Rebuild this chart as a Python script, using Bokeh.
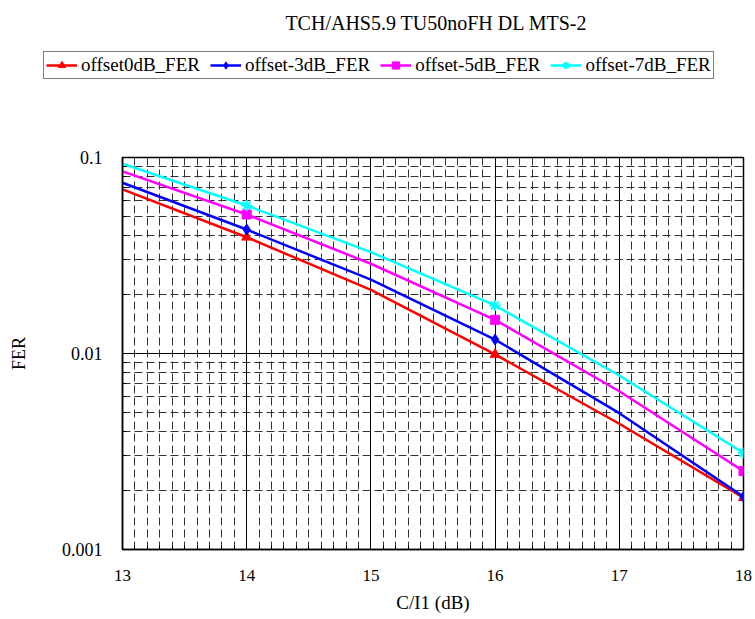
from bokeh.plotting import figure
from bokeh.layouts import column
from bokeh.models import (FixedTicker, SingleIntervalTicker, NumeralTickFormatter,
                          Legend, LegendItem, Label, Range1d)
from bokeh.embed import file_html
from bokeh.resources import INLINE

# ---- data ----
title_text = "TCH/AHS5.9 TU50noFH DL MTS-2"
x_label = "C/I1 (dB)"
y_label = "FER"
ci = [13, 14, 15, 16, 17, 18]
marker_idx = [1, 3, 5]  # markers drawn at 14, 16, 18
fer_0 = [0.0687, 0.0392, 0.0211, 0.00989, 0.00438, 0.00184]
fer_m3 = [0.0743, 0.0429, 0.0238, 0.01178, 0.00496, 0.00186]
fer_m5 = [0.0849, 0.0512, 0.0287, 0.01485, 0.00642, 0.00251]
fer_m7 = [0.0929, 0.0569, 0.0329, 0.01758, 0.00772, 0.00311]
series_names = ["offset0dB_FER", "offset-3dB_FER", "offset-5dB_FER", "offset-7dB_FER"]
series_vals = [fer_0, fer_m3, fer_m5, fer_m7]
series_colors = ["#FF0000", "#0000FF", "#FF00FF", "#00FFFF"]
series_markers = ["triangle", "diamond", "square", "asterisk"]
marker_sizes = [10, 11, 9, 11]
y_ticks = [0.001, 0.01, 0.1]
x_ticks_interval = 1

FONT = "Liberation Serif"
TOP_H = 90

# ---------- header figure: title + legend ----------
# its ranges lie outside the data, so the series drawn here only feed the legend swatches
head = figure(width=755, height=TOP_H, x_range=Range1d(0, 1), y_range=Range1d(0, 1),
              output_backend="svg", toolbar_location=None,
              x_axis_location=None, y_axis_location=None,
              min_border=0)
head.frame_align = False
head.outline_line_color = None
head.xgrid.visible = False
head.ygrid.visible = False
head.background_fill_color = "white"
head.border_fill_color = "white"

head.add_layout(Label(x=436, y=TOP_H - 22, x_units="screen", y_units="screen",
                      text=title_text, text_align="center", text_baseline="middle",
                      text_font=FONT, text_font_size="20px", text_color="black"))

# ---------- main chart ----------
p = figure(width=755, height=619 - TOP_H, y_axis_type="log",
           x_range=Range1d(13, 18), y_range=Range1d(0.001, 0.1),
           output_backend="svg", toolbar_location=None,
           min_border_left=122, min_border_right=12,
           min_border_top=157 - TOP_H, min_border_bottom=70)
p.frame_align = False
p.background_fill_color = "white"
p.border_fill_color = "white"
p.outline_line_color = "black"
p.outline_line_width = 1.5

xt = SingleIntervalTicker(interval=x_ticks_interval, num_minor_ticks=10)
yt = FixedTicker(ticks=y_ticks,
                 minor_ticks=[k * t for t in y_ticks[:-1] for k in range(2, 10)])
p.xaxis.ticker = xt
p.yaxis.ticker = yt
p.xgrid.ticker = xt
p.ygrid.ticker = yt
p.yaxis.formatter = NumeralTickFormatter(format="0.[000]")

for g in (p.xgrid, p.ygrid):
    g.grid_line_color = "black"
    g.grid_line_width = 1
    g.grid_line_alpha = 1
    g.minor_grid_line_color = "#333333"
    g.minor_grid_line_width = 1
    g.minor_grid_line_dash = "8 4"

for ax in p.axis:
    ax.axis_line_color = "black"
    ax.axis_line_width = 1.5
    ax.major_tick_out = 0
    ax.major_tick_in = 0
    ax.minor_tick_out = 0
    ax.minor_tick_in = 4
    ax.minor_tick_line_color = "black"
    ax.major_label_text_font = FONT
    ax.major_label_text_color = "black"
    ax.axis_label_text_font = FONT
    ax.axis_label_text_font_style = "normal"
    ax.axis_label_text_color = "black"

p.xaxis.major_label_text_font_size = "17px"
p.xaxis.major_label_standoff = 20
p.xaxis.axis_label = x_label
p.xaxis.axis_label_text_font_size = "19px"
p.xaxis.axis_label_standoff = 8

p.yaxis.major_label_text_font_size = "18px"
p.yaxis.major_label_standoff = 20
p.yaxis.axis_label = y_label
p.yaxis.axis_label_text_font_size = "18px"
p.yaxis.axis_label_standoff = 30

items = []
for name, vals, col, mk, ms in zip(series_names, series_vals, series_colors,
                                   series_markers, marker_sizes):
    mx = [ci[i] for i in marker_idx]
    my = [vals[i] for i in marker_idx]
    lw = 2 if mk == "asterisk" else 1
    p.line(ci, vals, line_color=col, line_width=2.5)
    p.scatter(mx, my, marker=mk, size=ms, fill_color=col, line_color=col, line_width=lw)
    # same series in the header (off its ranges) -> legend swatches
    hl = head.line(ci, vals, line_color=col, line_width=2.5)
    hs = head.scatter(mx, my, marker=mk, size=ms, fill_color=col, line_color=col,
                      line_width=lw)
    items.append(LegendItem(label=name, renderers=[hl, hs]))

legend = Legend(items=items, orientation="horizontal", location=(43, TOP_H - 79),
                border_line_color="black", border_line_width=1,
                padding=2, spacing=10, label_standoff=4, glyph_width=31,
                glyph_height=18, label_height=18, margin=0,
                label_text_font=FONT, label_text_font_size="19px",
                label_text_color="black", background_fill_alpha=1)
head.add_layout(legend)

layout = column(head, p, spacing=0)
open("out.html", "w").write(file_html(layout, INLINE))
